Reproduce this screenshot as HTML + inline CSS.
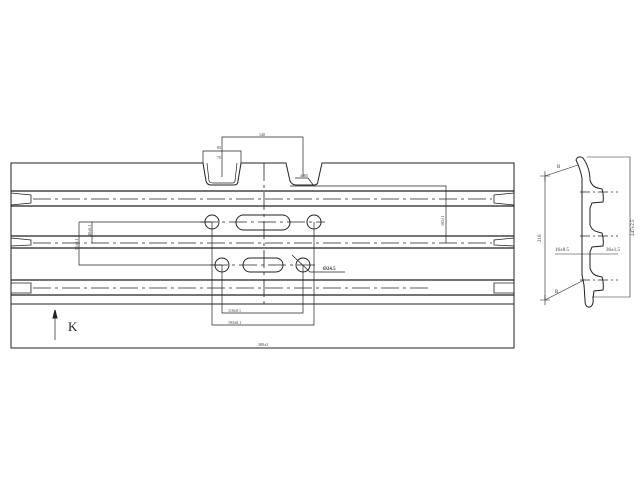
<!DOCTYPE html>
<html><head><style>body{margin:0;background:#fff}svg{display:block}</style></head><body>
<svg width="640" height="480" viewBox="0 0 640 480" xmlns="http://www.w3.org/2000/svg" font-family="Liberation Serif, serif" fill="none" stroke="#222" stroke-width="1">
<path d="M11,348 L11,163 L203,163 L206,181 Q207,185 211,185 L234,185 Q238,185 238,181 L241,163 L286,163 L290,181 Q292,185 296,185 L314,185 Q318,185 318,181 L322,163 L514,163 L514,348 Z"/>
<path d="M207,163 L209,181 Q210,183 213,183 L232,183 Q235,183 235,181 L237,163" stroke-width="0.7"/>
<line x1="11" y1="304" x2="514" y2="304"/>
<g stroke-width="1.2">
<line x1="11" y1="191" x2="514" y2="191"/><line x1="11" y1="206" x2="514" y2="206"/>
<line x1="11" y1="236" x2="514" y2="236"/><line x1="11" y1="248" x2="514" y2="248"/>
<line x1="11" y1="280" x2="514" y2="280"/><line x1="11" y1="295" x2="514" y2="295"/>
</g>
<g stroke-width="0.8">
<path d="M11,193 L31,195 L31,203 L11,205"/><path d="M11,238 L31,240 L31,245 L11,246"/><path d="M11,283 L31,283 L31,293 L11,293"/>
<path d="M514,193 L494,195 L494,203 L514,205"/><path d="M514,238 L494,240 L494,245 L514,246"/><path d="M514,283 L494,283 L494,293 L514,293"/>
</g>
<g stroke-dasharray="18,4,3,4" stroke-width="0.8">
<line x1="33" y1="199" x2="492" y2="199"/><line x1="33" y1="243" x2="492" y2="243"/><line x1="33" y1="288" x2="430" y2="288"/>
<line x1="264" y1="163" x2="264" y2="304"/>
<line x1="200" y1="222" x2="325" y2="222"/><line x1="210" y1="265" x2="315" y2="265"/>
</g>
<circle cx="212" cy="222" r="7"/><circle cx="314" cy="222" r="7"/>
<rect x="236" y="215" width="54" height="15" rx="7.5"/>
<circle cx="222" cy="265" r="7"/><circle cx="303" cy="265" r="7"/>
<rect x="243" y="258" width="40" height="14" rx="7"/>
<g stroke-width="0.7">
<path d="M212,222 V325 H314 V222"/>
<path d="M222,265 V313 H303 V265"/>
<path d="M222,177 V137 H303 V177"/>
<path d="M203,163 V151 H241 V163"/>
<path d="M79,222 V265 H222 M79,222 H212"/>
<path d="M92,222 V243"/>
<path d="M290,186 H446 V243"/>
<path d="M295,178 H308 L314,186"/>
<path d="M292,255 L310,272 H345"/>
<path d="M55,340 V313"/>
</g>
<path d="M55,310 L53,318 L57,318 Z" fill="#222"/>
<g fill="#333" stroke="none" font-size="4">
<text x="259" y="136">140</text><text x="217" y="149">85</text><text x="217" y="159">75</text>
<text x="300" y="177">4-R5</text>
<text x="228" y="312">110±0.1</text><text x="228" y="324">193±0.1</text>
<text x="258" y="346">300±2</text>
<text x="323" y="270" font-weight="bold" font-size="5">Ø24.5</text>
<text transform="translate(444,226) rotate(-90)">105±1</text>
<text transform="translate(78,250) rotate(-90)">95±0.1</text>
<text transform="translate(91,236) rotate(-90)">40±0.1</text>
</g>
<text x="68" y="331" fill="#222" stroke="none" font-size="13">K</text>
<g stroke-width="1">
<path d="M582,275 L582,178 Q580,168 576,160 Q578,155 583,158 Q590,168 590,180 Q592,187 598,188 L602,189 Q604,195 603,202 L592,203 L590,208 L590,225 Q592,231 598,232 L602,233 Q604,239 603,246 L592,247 L590,252 L590,268 Q592,275 598,276 L602,277 Q604,283 603,290 L594,291 L593,298 Q594,305 590,307 Q585,308 585,300 L584,285 Z"/>
<g stroke-dasharray="10,3,2,3" stroke-width="0.7">
<line x1="580" y1="192" x2="618" y2="192"/><line x1="580" y1="236" x2="618" y2="236"/><line x1="580" y1="280" x2="618" y2="280"/>
</g>
<g stroke-width="0.6">
<path d="M587,157 H630 V297 H592"/>
<path d="M545,176 V300"/>
<path d="M540,176 H550 M545,171 V181 M540,300 H550 M545,295 V305"/>
<path d="M545,176 L578,165"/><path d="M545,300 L584,280"/>
<path d="M555,254 H618"/>
</g>
</g>
<g fill="#333" stroke="none" font-size="5">
<text x="557" y="168">R</text><text x="555" y="293">R</text>
<text x="555" y="251">16±0.5</text><text x="606" y="251">36±1.5</text>
<text transform="translate(541,242) rotate(-90)">216</text>
<text transform="translate(634,236) rotate(-90)">247±2.5</text>
</g>
</svg>
</body></html>
